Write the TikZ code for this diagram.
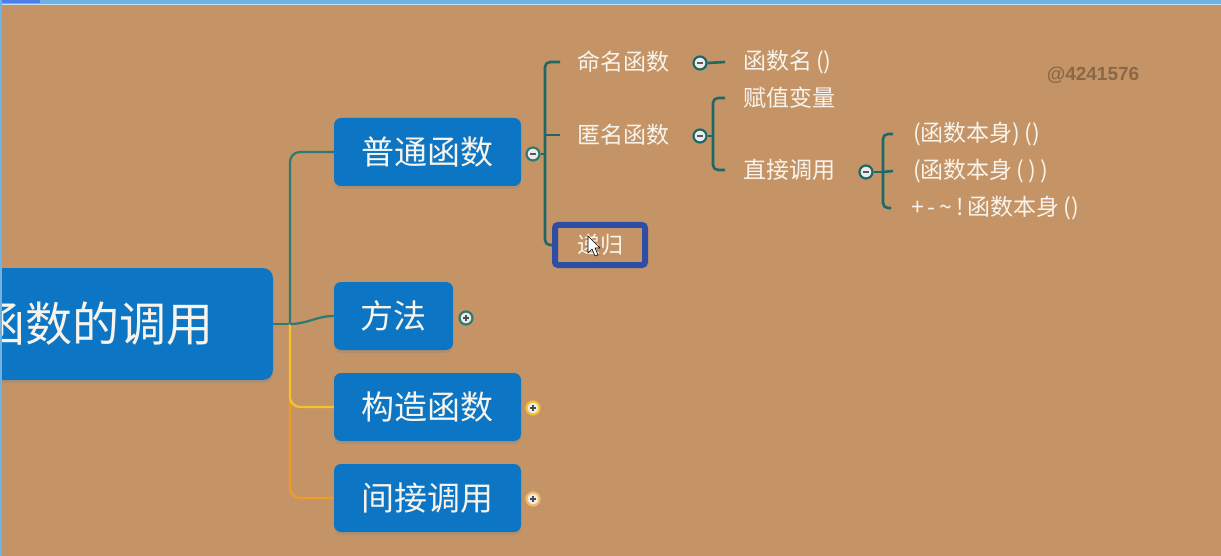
\documentclass[tikz,border=0pt]{standalone}
\usepackage{fontspec}
\usepackage{tikz}
\usetikzlibrary{calc,shadows}
\newfontfamily\cjk{Noto Sans CJK SC}
\newfontfamily\markfont{Liberation Sans}
\definecolor{kraft}{RGB}{197,148,102}
\definecolor{topicblue}{RGB}{12,118,196}
\definecolor{branchteal}{RGB}{44,122,112}
\definecolor{leafteal}{RGB}{32,104,104}
\definecolor{branchyellow}{RGB}{243,195,45}
\definecolor{branchorange}{RGB}{240,155,40}
\definecolor{selectblue}{RGB}{46,78,165}
\definecolor{barblue}{RGB}{112,178,226}
\definecolor{textwhite}{RGB}{248,244,236}
\tikzset{
	topic/.style={fill=topicblue, text=textwhite, rounded corners=7pt, minimum height=68pt, inner sep=0pt, font=\cjk\fontsize{33}{33}\selectfont, drop shadow={shadow xshift=0pt, shadow yshift=-3pt, opacity=0.25}},
	leaf/.style={anchor=west, inner sep=0pt, text=textwhite, font=\cjk\fontsize{23}{23}\selectfont},
	btn/.style={circle, draw=#1, line width=2.2pt, fill=white!92!black, minimum size=13pt, inner sep=0pt},
	btnminus/.style={path picture={\draw[line width=1.5pt, black!65] ($(path picture bounding box.center)+(-3,0)$) -- ++(6,0);}},
	btnplus/.style={path picture={\draw[line width=1.5pt, black!70] ($(path picture bounding box.center)+(-3,0)$) -- ++(6,0) ($(path picture bounding box.center)+(0,-3)$) -- ++(0,6);}},
	tline/.style={draw=branchteal, line width=2.2pt},
	lline/.style={draw=leafteal, line width=2.6pt},
	yline/.style={draw=branchyellow, line width=2.2pt},
	oline/.style={draw=branchorange, line width=2.2pt}
}
\def\gap{\hspace{4pt}}

\begin{document}
\begin{tikzpicture}[x=1pt, y=-1pt]
			%%%%% START %%%%%
			
			\useasboundingbox (0,0) rectangle (1221,556);
			\clip (0,0) rectangle (1221,556);
			\fill[kraft] (0,0) rectangle (1221,556);
			
			% topics
			\node[topic, minimum width=354pt, minimum height=112pt, rounded corners=10pt, font=\cjk\fontsize{47}{47}\selectfont] (root) at (96,324) {函数的调用};
			\node[topic, minimum width=187pt] (putong) at (427.5,152) {普通函数};
			\node[topic, minimum width=119pt] (fangfa) at (393.5,316) {方法};
			\node[topic, minimum width=187pt] (gouzao) at (427.5,407) {构造函数};
			\node[topic, minimum width=187pt] (jianjie) at (427.5,498) {间接调用};
			
			\coordinate (fork) at (290,324);
			\draw[tline] (root.east) -- (fork);
			\draw[oline, rounded corners=10pt] (fork) |- (jianjie.west);
			\draw[yline, rounded corners=10pt] (fork) |- (gouzao.west);
			\draw[tline, rounded corners=10pt] (fork) |- (putong.west);
			\draw[tline] (fork) to[out=0, in=180] (fangfa.west);
			
			\node[btn=branchteal, btnminus] (pb) at (533,154) {};
			\node[btn=branchteal, btnplus] (fb) at (466,318) {};
			\node[btn=branchyellow, btnplus] (gb) at (533,408) {};
			\node[btn=branchorange!70!white, btnplus] (jb) at (533,499) {};
			
			% leaves
			\node[leaf] (mingming) at (577,62) {命名函数};
			\node[leaf] (niming) at (577,135) {匿名函数};
			\node[leaf, anchor=center, draw=selectblue, line width=6pt, rounded corners=3pt, minimum width=90pt, minimum height=40pt] (digui) at (600,245) {递归};
			\node[leaf] (hanshuming) at (743,62) {函数名\gap()};
			\node[leaf] (fuzhi) at (743,98) {赋值变量};
			\node[leaf] (zhijie) at (743,170) {直接调用};
			\node[leaf] (zs1) at (913,134) {(函数本身)\gap()};
			\node[leaf] (zs2) at (913,171) {(函数本身\gap(\gap)\gap)};
			\node[leaf] (zs3) at (911,208) {+\,-\,\textasciitilde\,!\,函数本身\gap()};
			
			\coordinate (sp1) at (545,154);
			\draw[lline] (pb.east) -- (sp1);
			\draw[lline, rounded corners=5pt] ([xshift=-17pt]mingming.west) -| (sp1) |- (digui.west);
			\draw[lline] (sp1 |- niming.west) -- ([xshift=-17pt]niming.west);
			
			\node[btn=leafteal, btnminus] (mb) at (700,63) {};
			\node[btn=leafteal, btnminus] (nb) at (700,136) {};
			\draw[lline] (mb.east) -- ([xshift=-18pt]hanshuming.west);
			
			\coordinate (sp2) at (713,136);
			\draw[lline] (nb.east) -- (sp2);
			\draw[lline, rounded corners=5pt] ([xshift=-18pt]fuzhi.west) -| (sp2) |- ([xshift=-18pt]zhijie.west);
			
			\node[btn=leafteal, btnminus] (zb) at (866,172) {};
			\coordinate (sp3) at (883,172);
			\draw[lline] (zb.east) -- (sp3);
			\draw[lline, rounded corners=5pt] ([xshift=-20pt]zs1.west) -| (sp3) |- ([xshift=-20pt]zs3.west);
			\draw[lline] (sp3) -- ([xshift=-20pt]zs2.west);
			
			% cursor
			\draw[fill=white, line width=0.6pt, line join=round] (588,236) -- (588,253) -- (592,249) -- (595,256) -- (598,255) -- (595,248) -- (600,248) -- cycle;
			
			\node[font=\markfont\bfseries\fontsize{19}{19}\selectfont, text=kraft!70!black] (mark) at (1093,75) {@4241576};
			
			% window frame
			\fill[barblue] (0,0) rectangle (1221,4);
			\fill[barblue!70!blue] (0,0) rectangle (40,3);
			\fill[white!60!barblue] (0,4) rectangle (1221,5.5);
			\fill[barblue] (0,0) rectangle (2,556);
			
			%%%%% END %%%%%
		\end{tikzpicture}
\end{document}
